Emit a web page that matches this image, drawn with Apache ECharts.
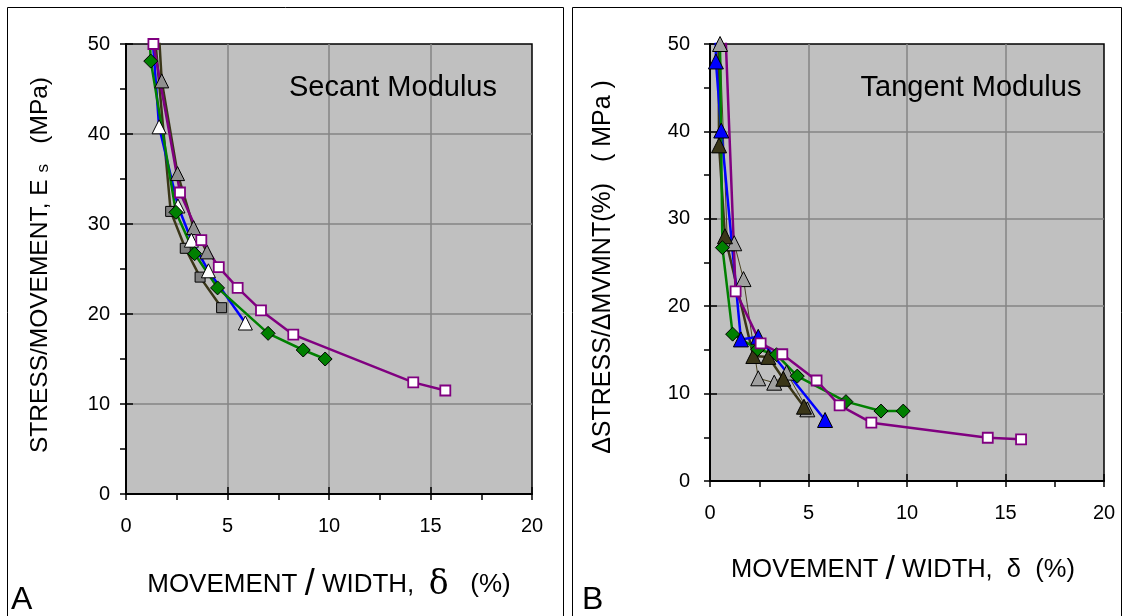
<!DOCTYPE html>
<html><head><meta charset="utf-8">
<script src="https://cdn.jsdelivr.net/npm/echarts@6/dist/echarts.min.js"></script>
<style>html,body{margin:0;padding:0;background:#fff}#c{width:1128px;height:616px}</style>
</head><body><div id="c"></div><script>
// ---- Data: A (Secant modulus) ----
const secPurpleX = [1.35, 2.66, 3.71, 4.57, 5.50, 6.65, 8.24, 14.15, 15.73];
const secPurpleY = [50.0, 33.5, 28.2, 25.2, 22.9, 20.4, 17.7, 12.4, 11.5];
const secGreenX = [1.08, 1.22, 2.46, 3.38, 4.51, 7.0, 8.73, 9.81];
const secGreenY = [55, 48.1, 31.3, 26.7, 22.9, 17.85, 16.0, 15.0];
const secBlueX = [1.17, 1.63, 2.56, 3.22, 4.06, 5.88];
const secBlueY = [55, 40.8, 32.0, 28.2, 24.8, 19.0];
const secOliveSqX = [1.38, 2.2, 2.92, 3.65, 4.71];
const secOliveSqY = [52, 31.4, 27.3, 24.1, 20.7];
const secOliveTriX = [1.6, 1.76, 2.54, 3.33, 3.99];
const secOliveTriY = [52, 45.9, 35.6, 29.6, 26.9];
// ---- Data: B (Tangent modulus) ----
const tanPurpleX = [0.72, 1.30, 2.57, 3.67, 5.41, 6.58, 8.19, 14.1, 15.79];
const tanPurpleY = [55, 21.7, 15.75, 14.5, 11.5, 8.66, 6.67, 4.95, 4.77];
const tanGreenX = [0.48, 0.63, 1.15, 2.42, 3.38, 4.43, 6.9, 8.68, 9.81];
const tanGreenY = [55, 26.7, 16.8, 15.07, 14.45, 12.0, 9.08, 8.0, 8.0];
const tanBlueX = [0.28, 0.30, 0.57, 1.57, 2.45, 5.84];
const tanBlueY = [55, 48.0, 40.1, 16.2, 16.5, 6.98];
const tanOliveX = [0.42, 0.46, 0.76, 2.2, 2.96, 3.72, 4.77];
const tanOliveY = [55, 38.4, 28.0, 14.3, 14.2, 11.7, 8.5];
const tanGrayX = [0.51, 0.88, 1.23, 1.70, 2.45, 3.26, 3.89, 4.94];
const tanGrayY = [50, 27.2, 27.2, 23.1, 11.75, 11.25, 12.4, 8.2];
// ---- Axis ----
const xMin = 0, xMax = 20, xStep = 5;
const yMin = 0, yMax = 50, yStep = 10;

const FONT = 'Liberation Sans, Arial, sans-serif';
const zip = (xs, ys) => xs.map((x, i) => [x, ys[i]]);

function mainX(gi) {
  return { type: 'value', gridIndex: gi, min: xMin, max: xMax, interval: xStep,
    axisLine: { show: true, onZero: false, lineStyle: { color: '#000', width: 2 } },
    axisTick: { show: true, inside: false, length: 6, lineStyle: { color: '#000', width: 1.5 } },
    minorTick: { show: true, splitNumber: 2, length: 6, lineStyle: { color: '#000', width: 1.5 } },
    axisLabel: { color: '#000', fontSize: 20, fontFamily: FONT, margin: 22 },
    splitLine: { show: true, showMinLine: false, showMaxLine: false, lineStyle: { color: '#858585', width: 1.5 } } };
}
function overX(gi) {
  return { type: 'value', gridIndex: gi, min: xMin, max: xMax, interval: xStep, position: 'bottom',
    axisLine: { show: false, onZero: false }, axisLabel: { show: false }, splitLine: { show: false },
    axisTick: { show: true, inside: true, length: 7, lineStyle: { color: '#000', width: 1.5 } } };
}
function mainY(gi, margin) {
  return { type: 'value', gridIndex: gi, min: yMin, max: yMax, interval: yStep,
    axisLine: { show: true, onZero: false, lineStyle: { color: '#000', width: 2 } },
    axisTick: { show: true, inside: false, length: 6, lineStyle: { color: '#000', width: 1.5 } },
    minorTick: { show: true, splitNumber: 2, length: 6, lineStyle: { color: '#000', width: 1.5 } },
    axisLabel: { color: '#000', fontSize: 20, fontFamily: FONT, margin: margin },
    splitLine: { show: true, showMinLine: false, showMaxLine: false, lineStyle: { color: '#858585', width: 1.5 } } };
}
function overY(gi) {
  return { type: 'value', gridIndex: gi, min: yMin, max: yMax, interval: yStep, position: 'left',
    axisLine: { show: false, onZero: false }, axisLabel: { show: false }, splitLine: { show: false },
    axisTick: { show: true, inside: true, length: 7, lineStyle: { color: '#000', width: 1.5 } } };
}

function ser(xi, yi, xs, ys, lineColor, lineW, symbol, size, fill, border, bw) {
  return { type: 'line', xAxisIndex: xi, yAxisIndex: yi, data: zip(xs, ys), clip: true,
    symbol: symbol, symbolSize: size, showSymbol: true, showAllSymbol: true,
    lineStyle: { color: lineColor, width: lineW },
    itemStyle: { color: fill, borderColor: border, borderWidth: bw, opacity: 1 },
    emphasis: { disabled: true }, silent: true, z: 3 };
}

const OLIVE = '#3a3618';
const chart = echarts.init(document.getElementById('c'));
chart.setOption({
  animation: false,
  grid: [
    { left: 126, top: 44, width: 406, height: 450, show: true, backgroundColor: '#c0c0c0', borderColor: '#000', borderWidth: 1.5 },
    { left: 710, top: 44, width: 394, height: 437, show: true, backgroundColor: '#c0c0c0', borderColor: '#000', borderWidth: 1.5 }
  ],
  xAxis: [mainX(0), mainX(1), overX(0), overX(1)],
  yAxis: [mainY(0, 16), mainY(1, 20), overY(0), overY(1)],
  series: [
    ser(0, 0, secOliveSqX, secOliveSqY, OLIVE, 2.5, 'rect', 10, '#808080', '#000', 1),
    ser(0, 0, secOliveTriX, secOliveTriY, OLIVE, 2.5, 'triangle', 14, '#909090', '#000', 1),
    ser(0, 0, secBlueX, secBlueY, '#0000ff', 2.5, 'triangle', 14, '#ffffff', '#000', 1),
    ser(0, 0, secGreenX, secGreenY, '#008000', 2.5, 'diamond', 14, '#008000', '#000', 1),
    ser(0, 0, secPurpleX, secPurpleY, '#800080', 2.5, 'rect', 10, '#ffffff', '#800080', 1.8),

    ser(1, 1, tanGrayX, tanGrayY, '#4a4220', 1, 'triangle', 15, '#a0a0a0', '#000', 1),
    ser(1, 1, tanOliveX, tanOliveY, OLIVE, 2.5, 'triangle', 15, '#3a3618', '#000', 1),
    ser(1, 1, tanBlueX, tanBlueY, '#0000ff', 2.5, 'triangle', 15, '#0000ff', '#000', 1),
    ser(1, 1, tanGreenX, tanGreenY, '#008000', 2.5, 'diamond', 14, '#008000', '#000', 1),
    ser(1, 1, tanPurpleX, tanPurpleY, '#800080', 2.5, 'rect', 10, '#ffffff', '#800080', 1.8)
  ],
  graphic: [
    { type: 'rect', shape: { x: 7.5, y: 7.5, width: 556, height: 620 }, style: { fill: 'none', stroke: '#000', lineWidth: 1 }, silent: true },
    { type: 'rect', shape: { x: 572.5, y: 7.5, width: 549, height: 620 }, style: { fill: 'none', stroke: '#000', lineWidth: 1 }, silent: true },
    { type: 'text', x: 393, y: 88, style: { text: 'Secant Modulus', font: '29px ' + FONT, fill: '#000', textAlign: 'center', textVerticalAlign: 'middle' }, z: 10 },
    { type: 'text', x: 971, y: 88, style: { text: 'Tangent Modulus', font: '29px ' + FONT, fill: '#000', textAlign: 'center', textVerticalAlign: 'middle' }, z: 10 },
    { type: 'text', x: 40, y: 265, rotation: Math.PI / 2,
      style: { text: '{a|STRESS/MOVEMENT, E }{s|s}{a|   (MPa)}', textAlign: 'center', textVerticalAlign: 'middle',
        rich: { a: { fontSize: 24.5, fontFamily: FONT, fill: '#000' }, s: { fontSize: 17, fontFamily: FONT, fill: '#000', padding: [7, 0, 0, 0] } } } },
    { type: 'text', x: 603, y: 267, rotation: Math.PI / 2,
      style: { text: 'ΔSTRESS/ΔMVMNT(%)   ( MPa )', font: '25px ' + FONT, fill: '#000', textAlign: 'center', textVerticalAlign: 'middle' } },
    { type: 'text', x: 329, y: 585,
      style: { text: '{a|MOVEMENT }{sl|/}{a| WIDTH,  }{d|δ}{a|   (%)}', textAlign: 'center', textVerticalAlign: 'middle',
        rich: { a: { fontSize: 26, fontFamily: FONT, fill: '#000' }, sl: { fontSize: 36, fontFamily: FONT, fill: '#000' }, d: { fontSize: 33, fontFamily: 'DejaVu Serif, Liberation Serif, serif', fill: '#000' } } } },
    { type: 'text', x: 903, y: 570,
      style: { text: '{a|MOVEMENT }{sl|/}{a| WIDTH,  δ  (%)}', textAlign: 'center', textVerticalAlign: 'middle',
        rich: { a: { fontSize: 25.5, fontFamily: FONT, fill: '#000' }, sl: { fontSize: 34, fontFamily: FONT, fill: '#000' } } } },
    { type: 'text', x: 11, y: 600, style: { text: 'A', font: '32px ' + FONT, fill: '#000', textAlign: 'left', textVerticalAlign: 'middle' } },
    { type: 'text', x: 582, y: 600, style: { text: 'B', font: '32px ' + FONT, fill: '#000', textAlign: 'left', textVerticalAlign: 'middle' } }
  ]
});
</script></body></html>
